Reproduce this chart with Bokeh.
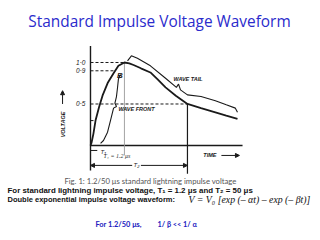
import math
from bokeh.plotting import figure
from bokeh.models import Range1d, Label, Arrow, NormalHead, ColumnDataSource
from bokeh.core.properties import value
from bokeh.embed import file_html
from bokeh.resources import INLINE

# ---- data (time in drawing units with T2 = 50) ----
front_t = [0, 0.5, 1.5, 2.6, 4.4, 6.2, 9.0, 11.9, 14.4, 17.5]
front_v = [0, 0.03, 0.14, 0.30, 0.46, 0.60, 0.76, 0.87, 0.96, 1.00]
tail_t = [17.5, 20, 22.2, 26, 30.9, 34.5, 38.7, 44, 50, 57, 64.4, 70, 75.8]
tail_v = [1.00, 0.99, 0.97, 0.93, 0.88, 0.80, 0.70, 0.60, 0.50, 0.45, 0.40, 0.36, 0.32]
tailbrace_t = [19.1, 21.1, 24.2, 30.9, 38.7, 44.3, 45.4, 46.4, 50, 57, 64.4, 70, 74.7, 75.8]
tailbrace_v = [1.02, 1.08, 1.05, 0.96, 0.81, 0.70, 0.74, 0.67, 0.61, 0.59, 0.54, 0.49, 0.45, 0.40]
frontbrace_t = [15.5, 14.4, 13.9, 13.4, 12.6, 13.4, 11.9, 10.3, 8.8, 6.7, 5.2]
frontbrace_v = [0.855, 0.80, 0.69, 0.59, 0.51, 0.47, 0.45, 0.30, 0.16, 0.06, 0.025]
level_values = [1.0, 0.9, 0.5, 0.3]
level_ends = [17.5, 12.5, 50, 2.6]
tick_values = [1.0, 0.9, 0.5]
tick_labels = ["1·0", "0·9", "0·5"]
T1_end = 17.5
T2_end = 50

p = figure(width=320, height=240, output_backend="svg", toolbar_location=None,
           x_range=Range1d(-46.4, 118.6), y_range=Range1d(-1.145, 1.747),
           min_border=0, x_axis_location=None, y_axis_location=None)
p.grid.visible = False
p.outline_line_color = None
p.background_fill_color = "white"

ink = "#1a1a1a"

# axes of the drawing
p.segment(x0=[0], y0=[1.2], x1=[0], y1=[-0.30], line_color=ink, line_width=1.4)
p.segment(x0=[0], y0=[0], x1=[78.4], y1=[0], line_color=ink, line_width=1.4)

# dashed level lines
p.segment(x0=[0] * len(level_values), y0=level_values, x1=level_ends, y1=level_values,
          line_color=ink, line_width=1.0, line_dash="3 2")

# vertical helper lines
p.segment(x0=[T1_end], y0=[1.0], x1=[T1_end], y1=[-0.12], line_color="#9a9a9a", line_width=0.9)
p.segment(x0=[T2_end], y0=[0.5], x1=[T2_end], y1=[-0.34], line_color=ink, line_width=1.2)

# waveform
p.line(front_t + tail_t[1:], front_v + tail_v[1:], line_color=ink, line_width=1.8)
# braces
p.line(tailbrace_t, tailbrace_v, line_color=ink, line_width=1.1)
p.line(frontbrace_t, frontbrace_v, line_color=ink, line_width=1.1)

# tick labels
src = ColumnDataSource(dict(y=tick_values, x=[-2.6] * 3, t=tick_labels))
p.text(x="x", y="y", text="t", source=src, text_font=value("Liberation Sans"),
       text_font_style="italic", text_font_size="6.5px", text_align="right",
       text_baseline="middle", text_color=ink)

def dtext(x, y, s, size="5.5px", style="bold italic", align="left", angle=0.0,
          font="Liberation Sans", color=ink):
    p.text(x=[x], y=[y], text=[s], text_font=value(font), text_font_style=style,
           text_font_size=size, text_align=align, text_baseline="middle",
           angle=angle, text_color=color)

dtext(15.2, 0.84, "B", size="8px", align="center")
dtext(14.4, 0.445, "WAVE FRONT")
dtext(42.8, 0.80, "WAVE TAIL")
dtext(58.2, -0.12, "TIME")
dtext(-14.4, 0.253, "VOLTAGE", align="center", angle=math.pi / 2)
dtext(5.2, -0.075, "T₁", size="6px", style="italic")
dtext(6.7, -0.13, "T₁ = 1.2 μs", size="6px", style="italic", font="Liberation Serif", color="#333333")
dtext(23.7, -0.24, "T₂", size="6px", style="italic", align="center")

head = dict(size=4, fill_color=ink, line_color=ink)
p.add_layout(Arrow(end=NormalHead(**head), x_start=67.5, y_start=-0.12, x_end=76.8, y_end=-0.12,
                   line_color=ink, line_width=1))
p.add_layout(Arrow(end=NormalHead(**head), x_start=-14.4, y_start=0.50, x_end=-14.4, y_end=0.66,
                   line_color=ink, line_width=1))
p.add_layout(Arrow(end=NormalHead(**head), x_start=21.5, y_start=-0.24, x_end=0, y_end=-0.24,
                   line_color=ink, line_width=1))
p.add_layout(Arrow(end=NormalHead(**head), x_start=26.0, y_start=-0.24, x_end=T2_end, y_end=-0.24,
                   line_color=ink, line_width=1))
p.segment(x0=[0], y0=[-0.06], x1=[3.5], y1=[-0.06], line_color=ink, line_width=1)

# slide texts (screen units)
def slabel(x, y, s, size, font, style="normal", color="black", align="left"):
    p.add_layout(Label(x=x, y=y, x_units="screen", y_units="screen", text=s,
                       text_font=font, text_font_size=size, text_font_style=style,
                       text_color=color, text_align=align, text_baseline="middle"))

slabel(159, 219, "Standard Impulse Voltage Waveform", "15.4px", "Open Sans", color="#2b2bcc", align="center")
slabel(150, 60, "Fig. 1: 1.2/50 μs standard lightning impulse voltage", "7.7px", "Lato", color="#555555", align="center")
slabel(7, 50, "For standard lightning impulse voltage, T₁ = 1.2 μs and T₂ = 50 μs", "7.9px", "Liberation Sans", style="bold", color="#111111")
slabel(7, 41, "Double exponential impulse voltage waveform:", "7.5px", "Liberation Sans", style="bold", color="#111111")
slabel(188, 41, "V = V₀ [exp (– αt) – exp (– βt)]", "9.8px", "Liberation Serif", style="italic", color="#111111")
slabel(95, 16, "For 1.2/50 μs,", "7.4px", "Lato", style="bold", color="#2020c0")
slabel(157, 16, "1/ β << 1/ α", "7.3px", "Lato", style="bold", color="#2020c0")

open("out.html", "w").write(file_html(p, INLINE))
